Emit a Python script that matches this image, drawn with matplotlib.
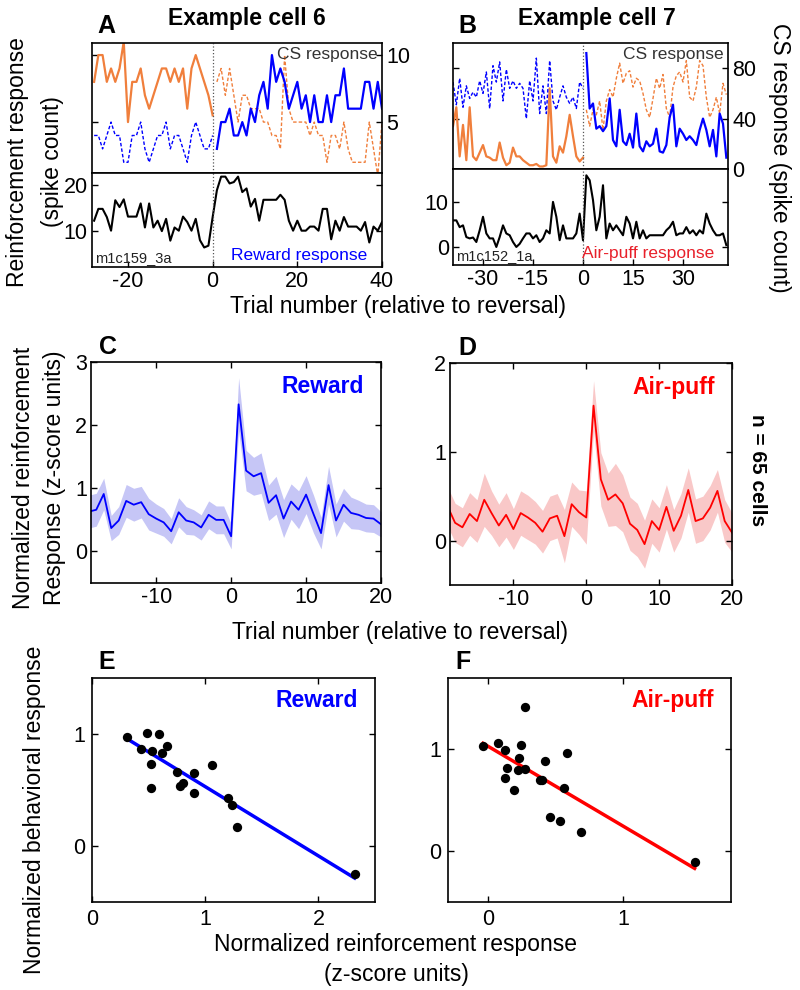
import matplotlib
matplotlib.use('Agg')
import matplotlib.pyplot as plt
import numpy as np

plt.rcParams['font.family'] = ['Liberation Sans', 'DejaVu Sans']
plt.rcParams['font.size'] = 12
plt.rcParams['axes.unicode_minus'] = False

###########################################
# Data
###########################################

# Panel A - example cell 6
a_pre_trials = np.arange(-28, 1)
a_pre_orange = [8, 10, 10, 8, 9, 8, 9, 11, 5, 8, 8, 9, 7, 6, 7, 8, 9, 9, 8, 9, 8, 9, 6, 9, 10, 9, 8, 7, 5.5]
a_pre_blue = [4, 4, 3, 4, 5, 4, 4, 2, 2, 4, 4, 5, 3, 2, 3, 4, 4, 5, 3, 4, 4, 3, 2, 4, 5, 4, 3, 3, 4]
a_post_trials = np.arange(1, 41)
a_post_blue = [3, 5, 5, 6, 4, 4, 5, 4, 6, 5, 7, 8, 6, 10, 8, 9, 8, 6, 7, 8,
               6, 7, 5, 7, 5, 5, 7, 5, 7, 7, 9, 6, 6, 6, 6, 8, 8, 6, 8, 6]
a_post_orange = [8, 9, 7, 9, 7, 5, 7, 7, 6, 6, 6, 5, 5, 4, 4, 3, 10, 6, 5, 5,
                 5, 5, 4, 5, 4, 4, 2, 4, 4, 3, 5, 3, 2, 2, 2, 2, 5, 3, 1, 5]
a_trials = np.arange(-28, 41)
a_reward = [12.2, 14.8, 14.8, 13, 10, 16.7, 15.2, 16.9, 13.1, 13.1, 13.1, 16, 10.7, 16, 10.7,
            12.2, 9.9, 12.6, 7.8, 10.7, 10, 13.1, 11.9, 10, 12.6, 7.9, 6.3, 6.7, 13,
            18.9, 21.9, 21.9, 20.4, 20.7, 21.9, 18.5, 19.3, 15.3, 17, 12.2, 16.8, 16.8, 16.8,
            16.8, 17.9, 16.8, 12.2, 10, 12.2, 10, 10, 10.9, 10.9, 10, 14.8, 14.8, 8.1, 12.2,
            10, 13, 10.9, 10.9, 10.9, 10, 11.9, 7.4, 10.9, 10, 11.9]

# Panel B - example cell 7
b_pre_trials = np.arange(-39, 1)
b_pre_orange = [34, 49, 10, 35, 7, 49, 10, 7, 13, 19, 10, 9, 7, 7, 21, 9, 3, 5, 17, 10,
                10, 7, 5, 3, 3, 4, 2, 2, 3, 64, 10, 5, 18, 13, 26, 43, 26, 10, 6, 9]
b_pre_blue = [69, 51, 72, 49, 66, 56, 61, 57, 70, 60, 77, 48, 82, 69, 85, 54, 79, 64, 70, 64,
              68, 64, 40, 70, 54, 88, 44, 66, 44, 86, 54, 47, 57, 66, 57, 52, 57, 48, 69, 64]
b_post_trials = np.arange(1, 44)
b_post_blue = [92, 48, 52, 32, 34, 30, 34, 56, 23, 18, 47, 22, 19, 28, 17, 44, 18, 14, 22, 18,
               20, 32, 14, 13, 19, 41, 51, 18, 32, 28, 23, 26, 23, 19, 31, 40, 31, 18, 31, 10,
               44, 36, 9]
b_post_orange = [47, 34, 47, 43, 54, 31, 54, 63, 57, 72, 84, 68, 76, 78, 65, 72, 70, 60, 47, 41,
                 56, 72, 64, 75, 48, 41, 65, 74, 77, 69, 86, 57, 54, 65, 86, 82, 57, 41, 47, 57,
                 44, 68, 59]
b_trials = np.arange(-39, 44)
b_airpuff = [5.9, 5.9, 4.4, 4.8, 2.2, 1.9, 2.1, 1.1, 3.7, 6.7, 3, 1.9, 1.9, 0, 2.2, 4.8, 3, 2.6,
             1.1, 0, 0.7, 1.9, 3, 3, 1.9, 2.6, 1.1, 1.9, 3.7, 3, 10, 6.7, 1.5, 4.8, 1.9, 1.9,
             1.9, 3, 7.4, 1.5,
             15.9, 14.8, 10.4, 3.7, 6.7, 13.7, 1.9, 5.2, 3.7, 4.8, 3.7, 2.6, 6.7, 5.2, 1.9,
             5.6, 1.9, 3.7, 1.9, 2.6, 2.6, 2.6, 2.6, 2.6, 3.7, 4.4, 5.6, 2.6, 3, 3, 4.4, 3,
             3.7, 2.6, 3.7, 3, 7.4, 5.2, 3.7, 2.6, 2.6, 3, 0.4]

# Panels C, D - population average
pop_trials = np.arange(-19, 21)
reward_mean = [0.63, 0.66, 0.91, 0.37, 0.49, 0.80, 0.74, 0.78, 0.59, 0.52, 0.46, 0.32, 0.62,
               0.49, 0.46, 0.38, 0.58, 0.50, 0.50, 0.24, 2.33, 1.28, 1.19, 1.24, 0.77, 0.89,
               0.52, 0.79, 0.66, 0.90, 0.59, 0.29, 1.05, 0.49, 0.74, 0.61, 0.58, 0.53, 0.52, 0.43]
reward_sem = [0.26, 0.26, 0.25, 0.2, 0.22, 0.26, 0.26, 0.25, 0.25, 0.23, 0.22, 0.2, 0.23,
              0.22, 0.2, 0.2, 0.22, 0.22, 0.22, 0.2, 0.42, 0.32, 0.3, 0.32, 0.28, 0.3,
              0.3, 0.28, 0.3, 0.3, 0.3, 0.25, 0.3, 0.26, 0.26, 0.25, 0.23, 0.22, 0.22, 0.2]
airpuff_mean = [0.38, 0.20, 0.15, 0.30, 0.22, 0.46, 0.31, 0.17, 0.29, 0.13, 0.31, 0.26, 0.20,
                0.10, 0.25, 0.28, 0.05, 0.41, 0.32, 0.26, 1.52, 0.69, 0.46, 0.52, 0.42, 0.19,
                0.12, -0.04, 0.22, 0.12, 0.38, 0.11, 0.28, 0.57, 0.22, 0.25, 0.37, 0.56, 0.22, 0.09]
airpuff_sem = [0.22, 0.22, 0.22, 0.24, 0.24, 0.3, 0.25, 0.24, 0.25, 0.23, 0.25, 0.25, 0.24,
               0.24, 0.25, 0.25, 0.3, 0.25, 0.25, 0.3, 0.28, 0.3, 0.3, 0.35, 0.32, 0.3,
               0.3, 0.27, 0.25, 0.25, 0.25, 0.24, 0.25, 0.25, 0.25, 0.25, 0.25, 0.24, 0.24, 0.22]

# Panels E, F - behaviour vs reinforcement response
e_x = [0.31, 0.43, 0.49, 0.59, 0.53, 0.62, 0.66, 0.52, 0.52, 0.75, 0.78, 0.80, 0.90, 0.90,
       1.06, 1.20, 1.24, 1.28, 2.32]
e_y = [0.97, 0.87, 1.01, 1.00, 0.85, 0.83, 0.89, 0.73, 0.52, 0.66, 0.54, 0.56, 0.65, 0.47,
       0.72, 0.43, 0.37, 0.17, -0.25]
f_x = [-0.04, 0.07, 0.12, 0.24, 0.23, 0.14, 0.22, 0.27, 0.12, 0.19, 0.27, 0.38, 0.40, 0.42,
       0.58, 0.56, 0.46, 0.53, 0.69, 1.53]
f_y = [1.03, 1.06, 0.99, 1.04, 0.91, 0.82, 0.80, 0.81, 0.72, 0.60, 1.42, 0.70, 0.70, 0.88,
       0.96, 0.62, 0.33, 0.30, 0.19, -0.11]

###########################################
# Styling
###########################################
ORANGE = '#F07F3C'
BLUE = '#0000FF'
RED = '#FF0000'
W, H = 800, 990
TICK_FS = 15.5
LABEL_FS = 16.5


def px_axes(fig, left, right, top, bottom):
    return fig.add_axes([left / W, 1 - bottom / H, (right - left) / W, (bottom - top) / H])


def style(ax):
    for s in ax.spines.values():
        s.set_linewidth(1.2)
    ax.tick_params(direction='in', length=4.5, width=1, top=True, right=True,
                   labelsize=TICK_FS, pad=3)


fig = plt.figure(figsize=(8, 9.9), dpi=100)

###########################################
# A / B example cells
###########################################
examples = [
    dict(l=92, r=382, top=43, mid=173, bot=267, xlim=(-28.5, 40), xt=[-20, 0, 20, 40],
         ytop=(1.2, 10.9), yt_top=[5, 10], ybot=(2, 22.7), yt_bot=[10, 20],
         pre_t=a_pre_trials, pre_o=a_pre_orange, pre_b=a_pre_blue,
         post_t=a_post_trials, post_b=a_post_blue, post_o=a_post_orange,
         t=a_trials, resp=a_reward, name='m1c159_3a', rlabel='Reward response', rcol=BLUE,
         title='Example cell 6', tx=247, letter='A'),
    dict(l=453, r=728, top=43, mid=169, bot=265, xlim=(-39, 43.5), xt=[-30, -15, 0, 15, 30],
         ytop=(0, 100), yt_top=[0, 40, 80], ybot=(-4, 17.3), yt_bot=[0, 10],
         pre_t=b_pre_trials, pre_o=b_pre_orange, pre_b=b_pre_blue,
         post_t=b_post_trials, post_b=b_post_blue, post_o=b_post_orange,
         t=b_trials, resp=b_airpuff, name='m1c152_1a', rlabel='Air-puff response', rcol='#E8202A',
         title='Example cell 7', tx=597, letter='B'),
]

for ex in examples:
    ax1 = px_axes(fig, ex['l'], ex['r'], ex['top'], ex['mid'])
    ax2 = px_axes(fig, ex['l'], ex['r'], ex['mid'], ex['bot'])
    ax1.plot(ex['pre_t'], ex['pre_o'], color=ORANGE, lw=1.6)
    ax1.plot(ex['pre_t'], ex['pre_b'], color=BLUE, lw=1.0, ls='--', dashes=(2.5, 1.5))
    ax1.plot(ex['post_t'], ex['post_o'], color=ORANGE, lw=1.0, ls='--', dashes=(2.5, 1.5))
    ax1.plot(ex['post_t'], ex['post_b'], color=BLUE, lw=1.6)
    ax1.axvline(0, color='#555555', lw=0.9, ls=':')
    ax1.set_xlim(ex['xlim'])
    ax1.set_ylim(ex['ytop'])
    ax1.set_yticks(ex['yt_top'])
    ax1.set_xticks([])
    style(ax1)
    ax1.tick_params(labelleft=False, labelright=True, top=False, bottom=False)
    ax1.text(0.985, 0.97, 'CS response', transform=ax1.transAxes, ha='right', va='top',
             fontsize=12.5, color='#333333')

    ax2.plot(ex['t'], ex['resp'], color='black', lw=1.5)
    ax2.axvline(0, color='#555555', lw=0.9, ls=':')
    ax2.set_xlim(ex['xlim'])
    ax2.set_ylim(ex['ybot'])
    ax2.set_yticks(ex['yt_bot'])
    ax2.set_xticks(ex['xt'])
    style(ax2)
    ax2.tick_params(top=False)
    ax2.text(0.012, 0.02, ex['name'], transform=ax2.transAxes, ha='left', va='bottom',
             fontsize=10.5, color='#222222')
    ax2.text(0.95, 0.04, ex['rlabel'], transform=ax2.transAxes, ha='right', va='bottom',
             fontsize=12.5, color=ex['rcol'])

    fig.text(ex['tx'] / W, 1 - 18 / H, ex['title'], ha='center', va='center',
             fontsize=16.5, fontweight='bold')
    fig.text((ex['l'] + 14) / W, 1 - 26 / H, ex['letter'], ha='center', va='center',
             fontsize=18, fontweight='bold')

fig.text(18 / W, 1 - 162 / H, 'Reinforcement response', rotation=90, ha='center', va='center',
         fontsize=LABEL_FS)
fig.text(52 / W, 1 - 162 / H, '(spike count)', rotation=90, ha='center', va='center',
         fontsize=LABEL_FS)
fig.text(780 / W, 1 - 158 / H, 'CS response (spike count)', rotation=270, ha='center',
         va='center', fontsize=LABEL_FS)
fig.text(398 / W, 1 - 307 / H, 'Trial number (relative to reversal)', ha='center', va='center',
         fontsize=LABEL_FS)

###########################################
# C / D population averages
###########################################
pop = [
    dict(l=91, r=381, top=362, bot=583, mean=reward_mean, sem=reward_sem, col=BLUE,
         band='#C6C6F6', ylim=(-0.5, 3), yt=[0, 1, 2, 3], name='Reward', letter='C'),
    dict(l=450, r=732, top=363, bot=585, mean=airpuff_mean, sem=airpuff_sem, col=RED,
         band='#F9C8C8', ylim=(-0.5, 2), yt=[0, 1, 2], name='Air-puff', letter='D'),
]
for p in pop:
    ax = px_axes(fig, p['l'], p['r'], p['top'], p['bot'])
    m = np.array(p['mean'])
    s = np.array(p['sem'])
    ax.fill_between(pop_trials, m - s, m + s, color=p['band'], lw=0)
    ax.plot(pop_trials, m, color=p['col'], lw=1.3)
    ax.set_xlim(-18.7, 20)
    ax.set_ylim(p['ylim'])
    ax.set_xticks([-10, 0, 10, 20])
    ax.set_yticks(p['yt'])
    style(ax)
    ax.text(0.94, 0.89, p['name'], transform=ax.transAxes, ha='right', va='center',
            fontsize=16.5, fontweight='bold', color=p['col'])
    fig.text((p['l'] + 17) / W, 1 - (p['top'] - 15) / H, p['letter'], ha='center', va='center',
             fontsize=18, fontweight='bold')

fig.text(24 / W, 1 - 478 / H, 'Normalized reinforcement', rotation=90, ha='center',
         va='center', fontsize=LABEL_FS)
fig.text(54 / W, 1 - 478 / H, 'Response (z-score units)', rotation=90, ha='center',
         va='center', fontsize=LABEL_FS)
fig.text(757 / W, 1 - 470 / H, 'n = 65 cells', rotation=270, ha='center', va='center',
         fontsize=15, fontweight='bold')
fig.text(400 / W, 1 - 632 / H, 'Trial number (relative to reversal)', ha='center', va='center',
         fontsize=LABEL_FS)

###########################################
# E / F scatter plots with linear fit
###########################################
scat = [
    dict(l=92, r=375, x=e_x, y=e_y, col=BLUE, xlim=(0, 2.5), ylim=(-0.5, 1.5),
         xt=[0, 1, 2], name='Reward', letter='E'),
    dict(l=448, r=731, x=f_x, y=f_y, col=RED, xlim=(-0.3, 1.8), ylim=(-0.5, 1.7),
         xt=[0, 1], name='Air-puff', letter='F'),
]
for sc in scat:
    ax = px_axes(fig, sc['l'], sc['r'], 678, 902)
    x = np.array(sc['x'])
    y = np.array(sc['y'])
    slope, icpt = np.polyfit(x, y, 1)
    xf = np.array([x.min(), x.max()])
    ax.plot(xf, slope * xf + icpt, color=sc['col'], lw=2.5, zorder=2)
    ax.scatter(x, y, s=45, color='black', zorder=3, lw=0)
    ax.set_xlim(sc['xlim'])
    ax.set_ylim(sc['ylim'])
    ax.set_xticks(sc['xt'])
    ax.set_yticks([0, 1])
    style(ax)
    ax.tick_params(pad=5)
    ax.text(0.94, 0.9, sc['name'], transform=ax.transAxes, ha='right', va='center',
            fontsize=16.5, fontweight='bold', color=sc['col'])
    fig.text((sc['l'] + 15) / W, 1 - 662 / H, sc['letter'], ha='center', va='center',
             fontsize=18, fontweight='bold')

fig.text(35 / W, 1 - 810 / H, 'Normalized behavioral response', rotation=90, ha='center',
         va='center', fontsize=LABEL_FS)
fig.text(396 / W, 1 - 945 / H, 'Normalized reinforcement response', ha='center', va='center',
         fontsize=LABEL_FS)
fig.text(396 / W, 1 - 975 / H, '(z-score units)', ha='center', va='center',
         fontsize=LABEL_FS)

fig.savefig('out.png', dpi=100, facecolor='white')
